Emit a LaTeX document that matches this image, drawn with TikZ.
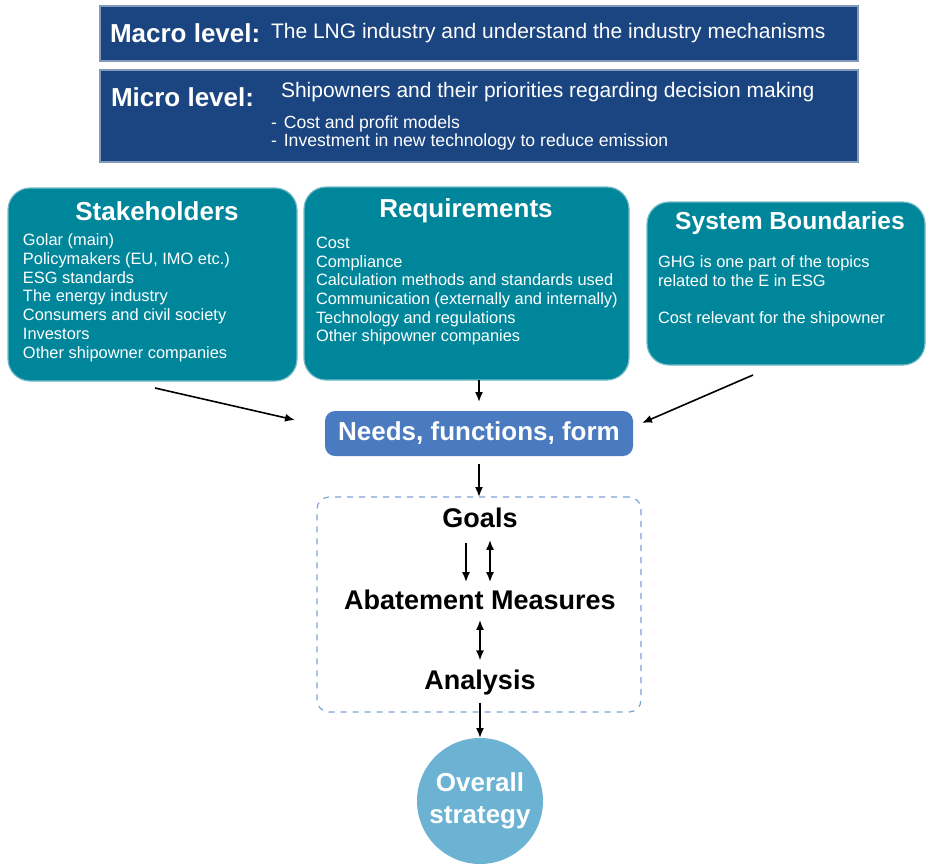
\documentclass[tikz,border=0pt]{standalone}
\usepackage{fontspec}
\setmainfont{Liberation Sans}
\usetikzlibrary{shapes,arrows,arrows.meta}
\definecolor{levelblue}{RGB}{27,69,128}
\definecolor{topicteal}{RGB}{0,134,155}
\definecolor{needsblue}{RGB}{74,123,192}
\definecolor{strategyblue}{RGB}{108,179,211}
\definecolor{frameblue}{RGB}{125,162,215}
\begin{document}
\begin{tikzpicture}[x=0.5pt,y=-0.5pt,
	every node/.style={inner sep=0pt, outer sep=0pt},
	levelbox/.style={rectangle, anchor=north west, fill=levelblue, draw=levelblue!55!white, line width=0.6pt, minimum width=379pt},
	levelhead/.style={anchor=west, text=white, font=\fontsize{13}{15}\selectfont\bfseries},
	leveltext/.style={anchor=west, text=white, font=\fontsize{10.5}{12}\selectfont},
	levellist/.style={anchor=north west, align=left, text=white, font=\fontsize{8.8}{9}\selectfont},
	topicbox/.style={rectangle, rounded corners=11pt, fill=topicteal, draw=topicteal!55!white, line width=0.6pt, anchor=north west, minimum height=96.5pt},
	topichead/.style={text=white, font=\fontsize{13}{15}\selectfont\bfseries},
	topiclist/.style={anchor=north west, align=left, text=white, font=\fontsize{8.2}{9.35}\selectfont},
	stepname/.style={text=black, font=\fontsize{13.5}{15}\selectfont\bfseries},
	flow/.style={->, >={Latex[length=5pt,width=4pt]}, thick}
	]
\useasboundingbox (0,0) rectangle (927,864);

\node[levelbox, minimum height=27.5pt] (macro) at (100,6) {};
\node[levelhead] (macrohead) at (110,33) {Macro level:};
\node[leveltext] (macrotext) at (271,33) {The LNG industry and understand the industry mechanisms};

\node[levelbox, minimum height=46pt] (micro) at (100,70) {};
\node[levelhead] (microhead) at (111,97) {Micro level:};
\node[leveltext] (microtext) at (281,92) {Shipowners and their priorities regarding decision making};
\node[levellist] (microlist) at (271,116) {-\hspace{3.5pt}Cost and profit models\\ -\hspace{3.5pt}Investment in new technology to reduce emission};

\node[topicbox, minimum width=144.5pt] (stake) at (8,188) {};
\node[topichead] (stakehead) at (157,211) {Stakeholders};
\node[topiclist] (stakelist) at (23,234) {Golar (main)\\ Policymakers (EU, IMO etc.)\\ ESG standards\\ The energy industry\\ Consumers and civil society\\ Investors\\ Other shipowner companies};

\node[topicbox, minimum width=162.5pt] (req) at (304,187) {};
\node[topichead] (reqhead) at (466,211) {Requirements};
\node[topiclist] (reqlist) at (316,237) {Cost\\ Compliance\\ Calculation methods and standards used\\ Communication (externally and internally)\\ Technology and regulations\\ Other shipowner companies};

\node[topicbox, minimum width=139pt, minimum height=81.5pt] (sys) at (647,202) {};
\node[topichead, font=\fontsize{12.3}{15}\selectfont\bfseries] (syshead) at (790,223) {System Boundaries};
\node[topiclist] (syslist) at (658,256) {GHG is one part of the topics\\ related to the E in ESG\\[9.35pt] Cost relevant for the shipowner};

\node[rectangle, rounded corners=5pt, fill=needsblue, minimum width=154pt, minimum height=22.5pt, text=white, font=\fontsize{13}{15}\selectfont\bfseries] (needs) at (479,433.5) {Needs, functions, form};

\node[rectangle, rounded corners=6pt, draw=frameblue, dashed, line width=0.6pt, minimum width=162pt, minimum height=107.5pt] (frame) at (479,604.5) {};
\node[stepname] (goals) at (480,518) {Goals};
\node[stepname] (abate) at (480,600) {Abatement Measures};
\node[stepname] (analysis) at (480,683) {Analysis};

\node[circle, fill=strategyblue, minimum size=63pt, align=center, text=white, font=\fontsize{13}{16}\selectfont\bfseries] (strategy) at (480,801) {Overall\\ strategy};

\draw[flow, shorten >=4.5pt] (needs.north |- req.south) -- (needs.north);
\draw[flow] ([xshift=1.25pt,yshift=-3.5pt]stake.south) -- ([xshift=-15pt,yshift=6.75pt]needs.west);
\draw[flow] ([xshift=-16.5pt,yshift=-5pt]sys.south) -- ([xshift=4.5pt,yshift=5.25pt]needs.east);
\draw[flow, shorten <=4pt] (needs.south) -- (frame.north);
\draw[flow, shorten <=7.5pt, shorten >=4pt] ([xshift=-7pt]goals.south) -- ([xshift=-7pt]abate.north);
\draw[flow, <->, shorten <=6pt, shorten >=4pt] ([xshift=5pt]goals.south) -- ([xshift=5pt]abate.north);
\draw[flow, <->, shorten <=5pt, shorten >=5pt] (abate.south) -- (analysis.north);
\draw[flow, shorten <=3.5pt] (analysis.south) -- (strategy.north);
\end{tikzpicture}
\end{document}
